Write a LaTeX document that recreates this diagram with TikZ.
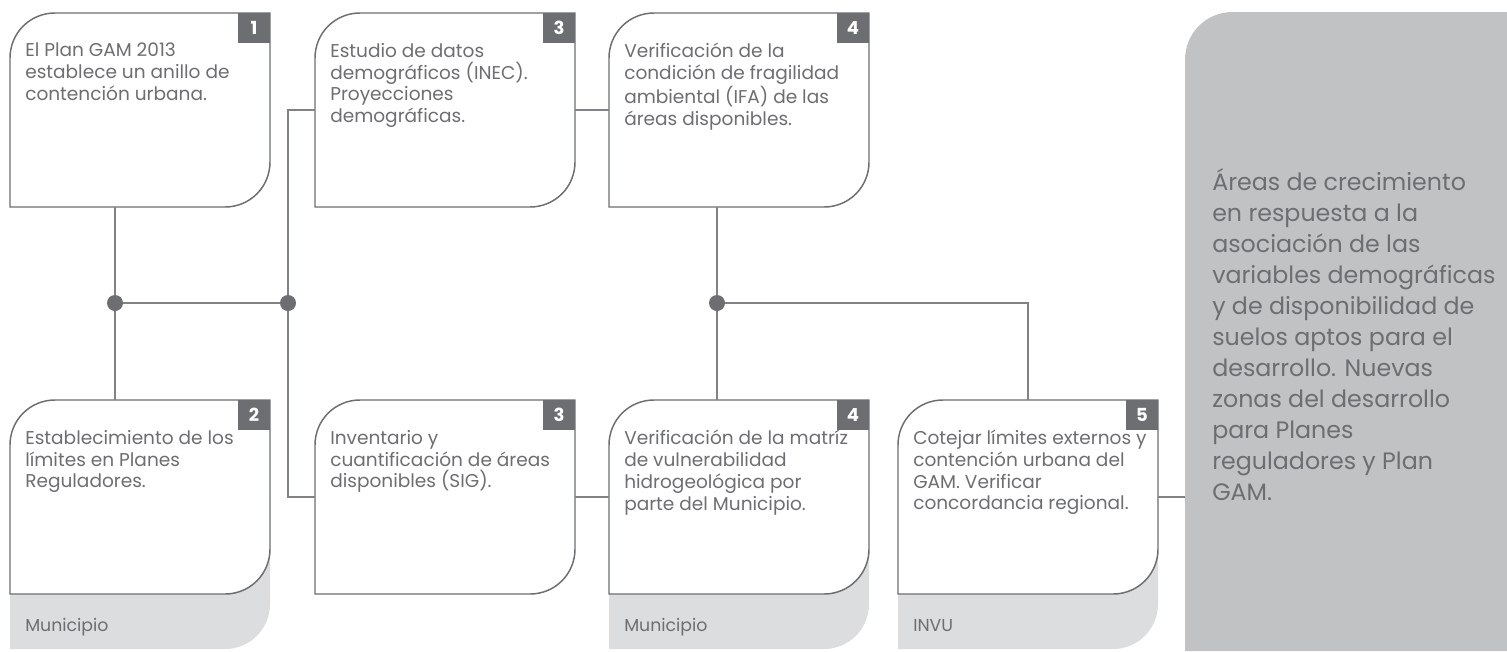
\documentclass[tikz,border=0pt]{standalone}
\usepackage{fontspec}
\setmainfont{Poppins}
\usetikzlibrary{calc}

\definecolor{cardgray}{HTML}{6D6E71}
\definecolor{linkgray}{HTML}{808285}
\definecolor{tabgray}{HTML}{DCDDDE}
\definecolor{panelgray}{HTML}{C1C2C4}

\tikzset{
  card/.style={draw=none,inner sep=0pt,minimum width=195pt,minimum height=145.5pt},
  cardline/.style={draw=cardgray,line width=1.1pt,fill=white},
  cardtext/.style={anchor=north west,inner sep=0pt,align=left,text=cardgray,font=\fontsize{13.9}{16.3}\selectfont},
  badge/.style={anchor=north east,fill=cardgray,text=white,inner sep=0pt,minimum width=24pt,minimum height=22.5pt,font=\fontsize{13.5}{13.5}\selectfont\bfseries},
  who/.style={anchor=base west,inner sep=0pt,text=cardgray,font=\fontsize{13}{15}\selectfont},
  panel/.style={anchor=north west,draw=none,inner sep=0pt,minimum width=241.5pt,minimum height=479.25pt},
  paneltext/.style={anchor=north west,inner sep=0pt,align=left,text=cardgray,font=\fontsize{17.8}{23.25}\selectfont},
  link/.style={draw=linkgray,line width=0.9pt},
  dot/.style={circle,fill=cardgray,inner sep=0pt,minimum size=12pt},
}

\begin{document}
\begin{tikzpicture}[x=0.75pt,y=0.75pt,yscale=-1,xscale=1]
\useasboundingbox (0,0) rectangle (1507,651); %set diagram to 1507 x 651

%Shape: Panel [out]
\fill[panelgray] (1185,651) -- (1185,60) .. controls (1185,33) and (1206,12) .. (1233,12) -- (1507,12) -- (1507,651) -- cycle;
\node[panel] (out) at (1185,12) {};

%Shape: Tabs under cards 2, 4b, 5
\fill[tabgray] (10,500) -- (10,649) -- (225,649) .. controls (250,649) and (270,629) .. (270,604) -- (270,500) -- cycle;
\fill[tabgray] (609,500) -- (609,649) -- (824,649) .. controls (849,649) and (869,629) .. (869,604) -- (869,500) -- cycle;
\fill[tabgray] (898,500) -- (898,649) -- (1113,649) .. controls (1138,649) and (1158,629) .. (1158,604) -- (1158,500) -- cycle;

%Shape: Card [c1]
\filldraw[cardline] (270,13) -- (55,13) .. controls (30,13) and (10,33) .. (10,58) -- (10,207) -- (225,207) .. controls (250,207) and (270,187) .. (270,162) -- cycle;
\node[card] (c1) at (140,110) {};
%Shape: Card [c3a]
\filldraw[cardline] (575,13) -- (360,13) .. controls (335,13) and (315,33) .. (315,58) -- (315,207) -- (530,207) .. controls (555,207) and (575,187) .. (575,162) -- cycle;
\node[card] (c3a) at (445,110) {};
%Shape: Card [c4a]
\filldraw[cardline] (869,13) -- (654,13) .. controls (629,13) and (609,33) .. (609,58) -- (609,207) -- (824,207) .. controls (849,207) and (869,187) .. (869,162) -- cycle;
\node[card] (c4a) at (739,110) {};
%Shape: Card [c2]
\filldraw[cardline] (270,400) -- (55,400) .. controls (30,400) and (10,420) .. (10,445) -- (10,594) -- (225,594) .. controls (250,594) and (270,574) .. (270,549) -- cycle;
\node[card] (c2) at (140,497) {};
%Shape: Card [c3b]
\filldraw[cardline] (575,400) -- (360,400) .. controls (335,400) and (315,420) .. (315,445) -- (315,594) -- (530,594) .. controls (555,594) and (575,574) .. (575,549) -- cycle;
\node[card] (c3b) at (445,497) {};
%Shape: Card [c4b]
\filldraw[cardline] (869,400) -- (654,400) .. controls (629,400) and (609,420) .. (609,445) -- (609,594) -- (824,594) .. controls (849,594) and (869,574) .. (869,549) -- cycle;
\node[card] (c4b) at (739,497) {};
%Shape: Card [c5]
\filldraw[cardline] (1158,400) -- (943,400) .. controls (918,400) and (898,420) .. (898,445) -- (898,594) -- (1113,594) .. controls (1138,594) and (1158,574) .. (1158,549) -- cycle;
\node[card] (c5) at (1028,497) {};

% Badges
\node[badge] (b1) at (c1.north east) {1};
\node[badge] (b2) at (c2.north east) {2};
\node[badge] (b3a) at (c3a.north east) {3};
\node[badge] (b3b) at (c3b.north east) {3};
\node[badge] (b4a) at (c4a.north east) {4};
\node[badge] (b4b) at (c4b.north east) {4};
\node[badge] (b5) at (c5.north east) {5};

% Text Node
\node[cardtext] (t1) at (25,43) {El Plan GAM 2013\\establece un anillo de\\contención urbana.};
% Text Node
\node[cardtext] (t3a) at (330,43) {Estudio de datos\\demográficos (INEC).\\Proyecciones\\demográficas.};
% Text Node
\node[cardtext] (t4a) at (624,43) {Verificación de la\\condición de fragilidad\\ambiental (IFA) de las\\áreas disponibles.};
% Text Node
\node[cardtext] (t2) at (25,430) {Establecimiento de los\\límites en Planes\\Reguladores.};
% Text Node
\node[cardtext] (t3b) at (330,430) {Inventario y\\cuantificación de áreas\\disponibles (SIG).};
% Text Node
\node[cardtext] (t4b) at (624,430) {Verificación de la matríz\\de vulnerabilidad\\hidrogeológica por\\parte del Municipio.};
% Text Node
\node[cardtext] (t5) at (913,430) {Cotejar límites externos y\\contención urbana del\\GAM. Verificar\\concordancia regional.};
% Text Node
\node[who] (w2) at (25,631) {Municipio};
\node[who] (w4b) at (624,631) {Municipio};
\node[who] (w5) at (913,631) {INVU};
% Text Node
\node[paneltext] (pt) at (1212,168) {Áreas de crecimiento\\en respuesta a la\\asociación de las\\variables demográficas\\y de disponibilidad de\\suelos aptos para el\\desarrollo. Nuevas\\zonas del desarrollo\\para Planes\\reguladores y Plan\\GAM.};

% Junctions
\node[dot] (j1) at (115,303) {};
\node[dot] (j2) at (288,303) {};
\node[dot] (j3) at (717,303) {};

% Connection
\draw[link] (c1.south -| j1) -- (j1) -- (c2.north -| j1);
\draw[link] (j1) -- (j2);
\draw[link] (c3a.west) -- (c3a.west -| j2) -- (j2) -- (c3b.west -| j2) -- (c3b.west);
\draw[link] (c3a.east) -- (c4a.west);
\draw[link] (c3b.east) -- (c4b.west);
\draw[link] (c4a.south -| j3) -- (j3) -- (c4b.north -| j3);
\draw[link] (j3) -- (j3 -| c5.north) -- (c5.north);
\draw[link] (c5.east) -- (c5.east -| out.west);

\end{tikzpicture}
\end{document}
